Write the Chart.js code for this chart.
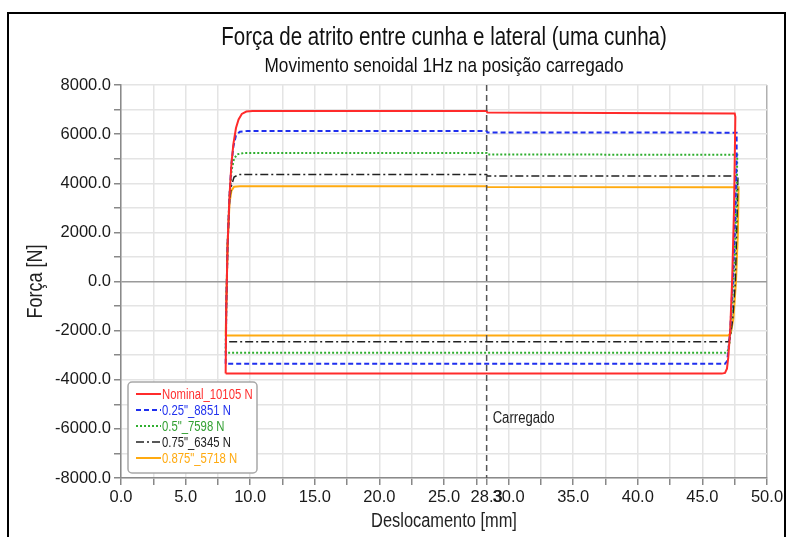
<!DOCTYPE html>
<html>
<head>
<meta charset="utf-8">
<script src="https://cdn.jsdelivr.net/npm/chart.js@4.4.1/dist/chart.umd.min.js"></script>
<style>
  html, body { margin: 0; padding: 0; background: #fff; }
  #wrap { position: relative; width: 793px; height: 537px; overflow: hidden; }
  #frame { position: absolute; left: 7px; top: 12px; width: 775px; height: 600px;
           border: 2px solid #000; border-bottom: none; }
  #chart { position: absolute; left: 0; top: 0; }
</style>
</head>
<body>
<div id="wrap">
  <div id="frame"></div>
  <canvas id="chart" width="793" height="537"></canvas>
</div>
<script>
// Chart texts
const titleText = 'Força de atrito entre cunha e lateral (uma cunha)';
const subtitleText = 'Movimento senoidal 1Hz na posição carregado';
const xTitle = 'Deslocamento [mm]';
const yTitle = 'Força [N]';
const markerX = 28.3;
const markerLabel = 'Carregado';

// Series labels
const seriesLabels = ['Nominal_10105 N', '0.25"_8851 N', '0.5"_7598 N', '0.75"_6345 N', '0.875"_5718 N'];

// Deslocamento [mm] / Força [N] (one loop per series)
const nominalX = [8.1, 8.15, 8.25, 8.4, 8.55, 8.7, 8.9, 9.1, 9.35, 9.7, 10.2, 28.3, 28.35, 47.5, 47.55, 47.45, 47.3, 47.15, 47.0, 46.9, 46.75, 46.5, 8.1];
const nominalY = [-3750, -1000, 1500, 3500, 4800, 5600, 6250, 6600, 6820, 6920, 6940, 6940, 6880, 6840, 6700, 3000, 0, -2000, -3100, -3550, -3720, -3750, -3750];

const q025X = [8.1, 8.15, 8.25, 8.4, 8.55, 8.7, 8.9, 9.2, 9.8, 28.3, 28.35, 47.65, 47.65, 47.5, 47.35, 47.15, 47.0, 46.9, 46.75, 8.1];
const q025Y = [-3350, -1000, 1500, 3500, 4800, 5500, 5950, 6100, 6130, 6130, 6070, 6060, 5000, 2000, 0, -2000, -2900, -3250, -3350, -3350];

const q05X = [8.1, 8.15, 8.25, 8.4, 8.55, 8.75, 9.0, 9.5, 28.3, 28.35, 47.7, 47.65, 47.5, 47.3, 47.1, 46.95, 46.8, 8.1];
const q05Y = [-2900, -1000, 1500, 3500, 4500, 5000, 5180, 5230, 5230, 5170, 5160, 3500, 1000, -1000, -2500, -2850, -2900, -2900];

const q075X = [8.1, 8.15, 8.25, 8.4, 8.55, 8.75, 9.1, 9.5, 28.3, 28.35, 47.75, 47.7, 47.55, 47.35, 47.15, 47.0, 8.1];
const q075Y = [-2450, -1000, 1500, 3300, 3900, 4250, 4350, 4360, 4360, 4300, 4290, 3000, 0, -1500, -2300, -2450, -2450];

const q0875X = [8.1, 8.15, 8.25, 8.4, 8.55, 8.75, 9.2, 28.3, 28.35, 47.8, 47.75, 47.6, 47.4, 47.2, 47.0, 8.1];
const q0875Y = [-2200, -1000, 1500, 3200, 3700, 3860, 3880, 3880, 3850, 3840, 2000, 0, -1500, -2100, -2200, -2200];

// Axis ranges
const xMin = 0, xMax = 50, xStep = 2.5;
const yMin = -8000, yMax = 8000, yStep = 1000;

const FONT = "'Liberation Sans', Arial, sans-serif";
const NARROW = 0.82;   // horizontal squeeze to imitate a narrow font

function zip(xs, ys) {
    return xs.map(function(x, i) { return { x: x, y: ys[i] }; });
}

// draw condensed text: squeeze horizontally around the anchor point
function narrowText(ctx, text, x, y, size, align, rotated) {
    ctx.save();
    ctx.translate(x, y);
    if (rotated) ctx.rotate(-Math.PI / 2);
    ctx.scale(NARROW, 1);
    ctx.font = size + 'px ' + FONT;
    ctx.textAlign = align;
    ctx.fillText(text, 0, 0);
    ctx.restore();
}

const styles = [
    { color: '#ff2b2b', text: '#ff3030', width: 2, dash: [] },
    { color: '#1f2fee', text: '#2233ee', width: 2, dash: [5, 3] },
    { color: '#2fae2f', text: '#33a033', width: 2, dash: [2, 2] },
    { color: '#222222', text: '#222222', width: 1.5, dash: [8, 3, 2, 3] },
    { color: '#ffaa10', text: '#ffaa10', width: 2, dash: [] }
];
const seriesData = [zip(nominalX, nominalY), zip(q025X, q025Y), zip(q05X, q05Y), zip(q075X, q075Y), zip(q0875X, q0875Y)];

const datasets = seriesData.map(function(d, i) {
    return {
        label: seriesLabels[i],
        data: d,
        showLine: true,
        borderColor: styles[i].color,
        borderWidth: styles[i].width,
        borderDash: styles[i].dash,
        pointRadius: 0,
        tension: 0,
        fill: false,
        order: i + 1
    };
});

// vertical dashed marker line
datasets.push({
    label: '_marker',
    data: [{ x: markerX, y: yMax }, { x: markerX, y: yMin }],
    showLine: true,
    borderColor: '#555555',
    borderWidth: 1.5,
    borderDash: [6, 4],
    pointRadius: 0,
    order: 0
});

// Titles, axis titles, legend box and marker label
const decorations = {
    id: 'decorations',
    afterDraw: function(chart) {
        const ctx = chart.ctx;
        const area = chart.chartArea;
        const cx = (area.left + area.right) / 2;
        const cy = (area.top + area.bottom) / 2;
        ctx.save();
        ctx.textBaseline = 'middle';
        ctx.fillStyle = '#111';
        narrowText(ctx, titleText, cx, 38, 25, 'center');
        narrowText(ctx, subtitleText, cx, 66, 21, 'center');

        ctx.fillStyle = '#222';
        narrowText(ctx, xTitle, cx, 521, 20, 'center');
        narrowText(ctx, yTitle, 36, cy, 22, 'center', true);

        // marker label
        const xs = chart.scales.x, ys = chart.scales.y;
        narrowText(ctx, markerLabel, xs.getPixelForValue(markerX) + 6, ys.getPixelForValue(-5600), 16, 'left');

        // legend box
        const bx = area.left + 7, by = area.bottom - 96, bw = 129, bh = 91;
        ctx.beginPath();
        ctx.roundRect(bx, by, bw, bh, 4);
        ctx.fillStyle = '#fff';
        ctx.fill();
        ctx.lineWidth = 1.5;
        ctx.strokeStyle = '#a8a8a8';
        ctx.stroke();
        ctx.textBaseline = 'alphabetic';
        seriesLabels.forEach(function(lbl, i) {
            const y = by + 17 + i * 16;
            ctx.beginPath();
            ctx.setLineDash(styles[i].dash);
            ctx.lineWidth = styles[i].width;
            ctx.strokeStyle = styles[i].color;
            ctx.moveTo(bx + 8, y - 5);
            ctx.lineTo(bx + 33, y - 5);
            ctx.stroke();
            ctx.setLineDash([]);
            ctx.fillStyle = styles[i].text;
            narrowText(ctx, lbl, bx + 34, y, 13.8, 'left');
        });
        ctx.restore();
    }
};

new Chart(document.getElementById('chart'), {
    type: 'scatter',
    data: { datasets: datasets },
    options: {
        responsive: false,
        animation: false,
        layout: { padding: { top: 85, left: 22, right: 26, bottom: 4 } },
        plugins: {
            legend: { display: false },
            tooltip: { enabled: false },
            title: { display: false }
        },
        scales: {
            x: {
                type: 'linear',
                min: xMin,
                max: xMax,
                afterFit: function(scale) { scale.height = 55; },
                afterBuildTicks: function(scale) {
                    const t = [];
                    for (let v = xMin; v <= xMax + 1e-9; v += xStep) t.push({ value: v });
                    t.push({ value: markerX });
                    t.sort(function(a, b) { return a.value - b.value; });
                    scale.ticks = t;
                },
                ticks: {
                    autoSkip: false,
                    maxRotation: 0,
                    padding: 3,
                    color: '#1a1a1a',
                    font: { family: FONT, size: 16.5 },
                    callback: function(v) {
                        if (Math.abs(v - markerX) < 1e-6) return '28.3';
                        return (Math.abs(v % 5) < 1e-6) ? v.toFixed(1) : '';
                    }
                },
                grid: {
                    color: function(c) {
                        if (c.tick && Math.abs(c.tick.value - markerX) < 1e-6) return 'rgba(0,0,0,0)';
                        if (c.tick && c.tick.value === xMax) return '#b0b0b0';
                        return '#e4e4e4';
                    },
                    lineWidth: 1.5,
                    tickLength: 7,
                    tickColor: '#888'
                },
                border: { color: '#8a8a8a', width: 1.5 },
                title: { display: false }
            },
            y: {
                type: 'linear',
                min: yMin,
                max: yMax,
                afterFit: function(scale) { scale.width = 99; },
                ticks: {
                    stepSize: yStep,
                    autoSkip: false,
                    padding: 3,
                    color: '#1a1a1a',
                    font: { family: FONT, size: 16.5 },
                    callback: function(v) {
                        return (v % 2000 === 0) ? v.toFixed(1) : '';
                    }
                },
                grid: {
                    color: function(c) {
                        if (c.tick && c.tick.value === 0) return '#9a9a9a';
                        return '#e4e4e4';
                    },
                    lineWidth: 1.5,
                    tickLength: 7,
                    tickColor: '#888'
                },
                border: { color: '#8a8a8a', width: 1.5 },
                title: { display: false }
            }
        }
    },
    plugins: [decorations]
});
</script>
</body>
</html>
